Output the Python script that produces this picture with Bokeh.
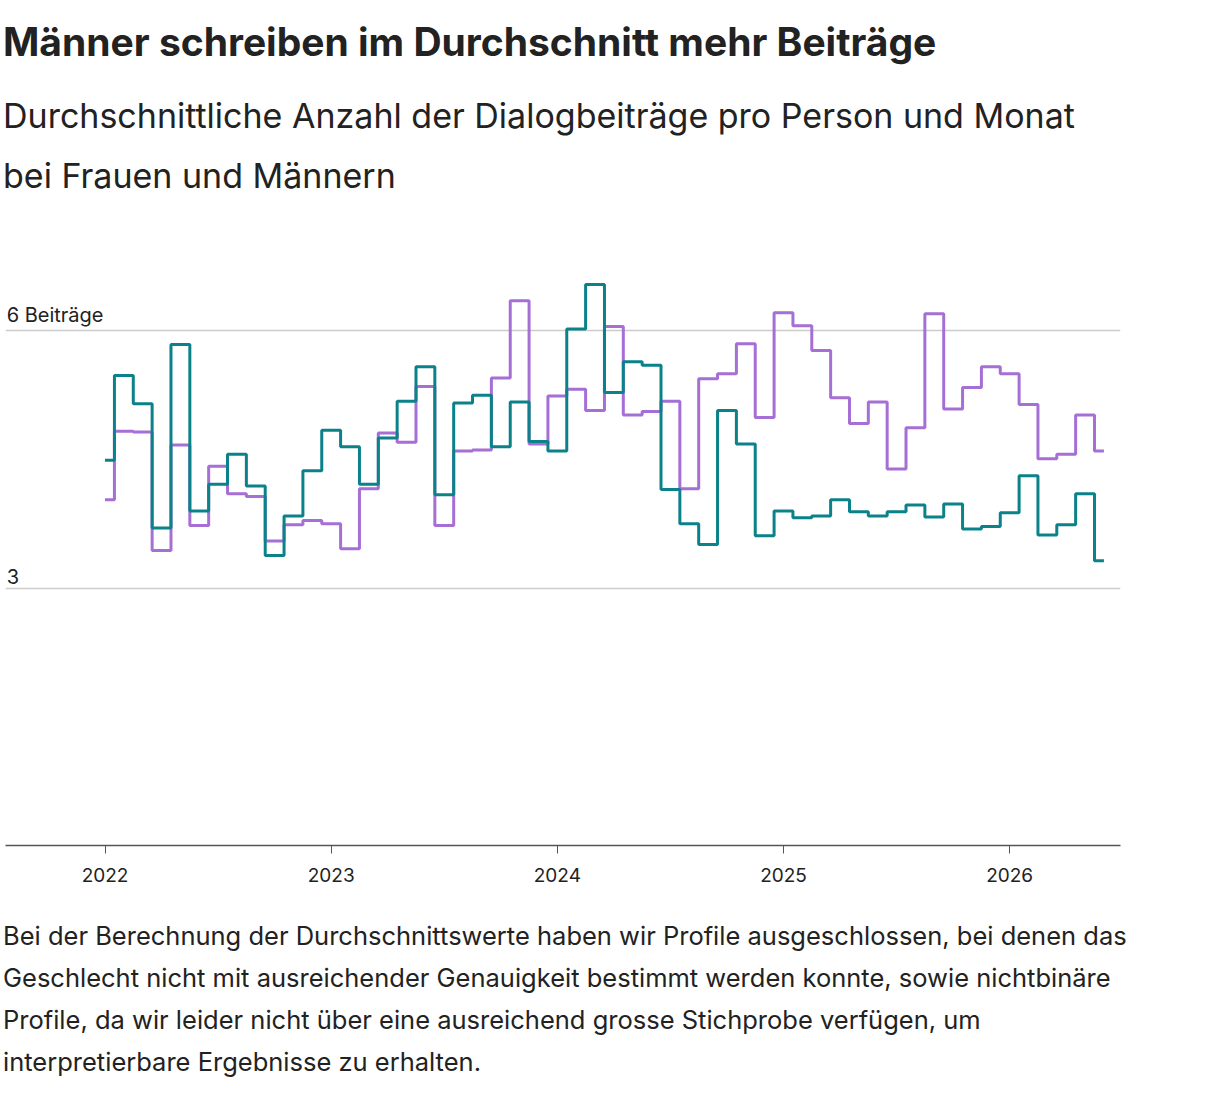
from bokeh.plotting import figure
from bokeh.models import Div, FixedTicker, ColumnDataSource
from bokeh.layouts import column
from bokeh.core.properties import value
from bokeh.embed import file_html
from bokeh.resources import INLINE

months = list(range(54))  # Jan 2022 .. Jun 2026
frauen = [4.49,5.48,5.15,3.70,5.84,3.90,4.21,4.56,4.19,3.38,3.84,4.37,
          4.84,4.65,4.21,4.75,5.18,5.58,4.09,5.16,5.25,4.65,5.17,4.71,
          4.60,6.02,6.54,5.28,5.64,5.60,4.15,3.75,3.51,5.07,4.68,3.61,
          3.90,3.82,3.84,4.03,3.89,3.84,3.89,3.97,3.83,3.98,3.69,3.72,
          3.88,4.31,3.62,3.74,4.10,3.32]
maenner = [4.03,4.83,4.82,3.44,4.67,3.73,4.42,4.10,4.07,3.55,3.74,3.79,
           3.75,3.46,4.16,4.81,4.70,5.35,3.73,4.60,4.61,5.45,6.35,4.68,
           5.24,5.32,5.07,6.05,5.02,5.06,5.18,4.16,5.44,5.50,5.85,4.99,
           6.21,6.06,5.77,5.22,4.92,5.17,4.39,4.87,6.20,5.09,5.34,5.58,
           5.50,5.14,4.51,4.56,5.02,4.60]
years = [2022, 2023, 2024, 2025, 2026]
ygrid = [3, 6]

FONT = "Inter"
x = [2022 + m / 12 for m in months]

title = Div(text="Männer schreiben im Durchschnitt mehr Beiträge", width=1200, height=62,
            styles={"font-family": FONT, "font-size": "39px", "font-weight": "700", "color": "#222",
                    "margin-top": "14px", "margin-left": "3px"})
sub = Div(text="Durchschnittliche Anzahl der Dialogbeiträge pro Person und Monat<br>bei Frauen und Männern",
          width=1200, height=146,
          styles={"font-family": FONT, "font-size": "34px", "line-height": "60px", "color": "#222",
                  "margin-left": "3px"})

p = figure(width=1215, height=660, output_backend="svg", toolbar_location=None,
           x_range=(2021.56, 2026.49), y_range=(0, 6.68),
           min_border_left=5, min_border_right=95, min_border_top=35, min_border_bottom=52)
p.outline_line_color = None
p.background_fill_color = None
p.border_fill_color = None
p.yaxis.visible = False
p.xgrid.visible = False
p.ygrid.ticker = FixedTicker(ticks=ygrid)
p.ygrid.grid_line_color = "#cccccc"
p.ygrid.grid_line_width = 1.5
p.xaxis.ticker = FixedTicker(ticks=years)
p.xaxis.major_label_overrides = {y: str(y) for y in years}
p.xaxis.axis_line_color = "#555555"
p.xaxis.axis_line_width = 1.5
p.xaxis.major_tick_line_color = "#555555"
p.xaxis.major_tick_in = 0
p.xaxis.major_tick_out = 8
p.xaxis.minor_tick_line_color = None
p.xaxis.major_label_text_font = FONT
p.xaxis.major_label_text_font_size = "19px"
p.xaxis.major_label_text_color = "#222"
p.xaxis.major_label_standoff = 14

p.step(x, maenner, mode="center", line_color="#a56fd6", line_width=3)
p.step(x, frauen, mode="center", line_color="#0b8189", line_width=3)

src = ColumnDataSource(dict(x=[2021.565, 2021.565], y=ygrid, t=["3", "6 Beiträge"]))
p.text("x", "y", "t", source=src, text_font=value(FONT), text_font_size="20px",
       text_color="#222", text_baseline="bottom", y_offset=-4)
p.text(x=[x[-1]], y=[maenner[-1]], text=["Männer"], text_font=value(FONT), text_font_size="20px",
       text_color="#a56fd6", text_baseline="middle", x_offset=22)
p.text(x=[x[-1]], y=[frauen[-1]], text=["Frauen"], text_font=value(FONT), text_font_size="20px",
       text_color="#0b8189", text_baseline="middle", x_offset=22)

foot = Div(text="Bei der Berechnung der Durchschnittswerte haben wir Profile ausgeschlossen, bei "
                "denen das Geschlecht nicht mit ausreichender Genauigkeit bestimmt werden konnte, "
                "sowie nichtbinäre Profile, da wir leider nicht über eine ausreichend grosse Stichprobe "
                "verfügen, um interpretierbare Ergebnisse zu erhalten.",
           width=1165, height=180,
           styles={"font-family": FONT, "font-size": "25.5px", "line-height": "42px", "color": "#222",
                   "margin-top": "18px", "margin-left": "3px"})

layout = column(title, sub, p, foot, spacing=0)
open("out.html", "w").write(file_html(layout, INLINE))
